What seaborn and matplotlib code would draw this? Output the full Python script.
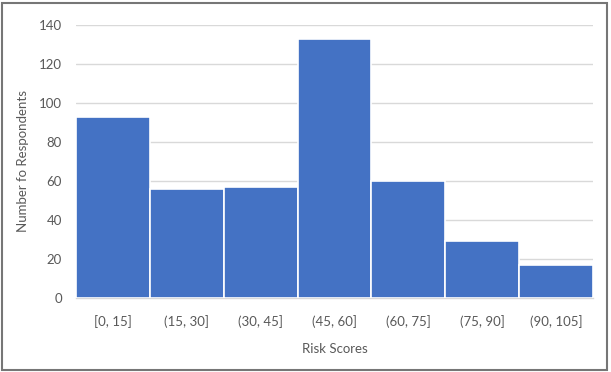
import matplotlib
matplotlib.use("Agg")
import matplotlib.pyplot as plt
import seaborn as sns
import pandas as pd
from matplotlib.patches import Rectangle

# histogram bins and counts
bins = ["[0, 15]", "(15, 30]", "(30, 45]", "(45, 60]", "(60, 75]", "(75, 90]", "(90, 105]"]
counts = [93, 56, 57, 133, 60, 29, 17]
y_ticks = [0, 20, 40, 60, 80, 100, 120, 140]

df = pd.DataFrame({"bin": bins, "count": counts})

sns.set_theme(style="white")
plt.rcParams["font.family"] = ["Lato", "DejaVu Sans"]

fig = plt.figure(figsize=(6.11, 3.72), dpi=100)
ax = fig.add_axes([76 / 611, 1 - 298 / 372, (593 - 76) / 611, (298 - 25) / 372])

sns.barplot(data=df, x="bin", y="count", color="#4472C4", saturation=1,
            width=1.0, edgecolor="white", linewidth=1.2, ax=ax, zorder=3)

ax.set_ylim(0, 140)
ax.set_xlim(-0.5, len(bins) - 0.5)
ax.set_yticks(y_ticks)
ax.yaxis.grid(True, color="#d9d9d9", linewidth=1, zorder=0)
ax.set_axisbelow(True)
for side in ["left", "right", "top"]:
    ax.spines[side].set_visible(False)
ax.spines["bottom"].set_color("#d9d9d9")
ax.spines["bottom"].set_linewidth(1)
ax.tick_params(axis="both", length=0, labelsize=9.5, colors="#595959")
ax.tick_params(axis="x", pad=12)
ax.tick_params(axis="y", pad=10)

ax.set_xlabel("Risk Scores", fontsize=9.5, color="#595959", labelpad=11)
ax.set_ylabel("Number fo Respondents", fontsize=9.5, color="#595959", labelpad=7)

# outer frame like the chart border
fig.patches.append(Rectangle((2 / 611, 2 / 372), 605 / 611, 367 / 372,
                             transform=fig.transFigure, fill=False,
                             edgecolor="#767676", linewidth=1.5))

fig.savefig("out.png", dpi=100)
